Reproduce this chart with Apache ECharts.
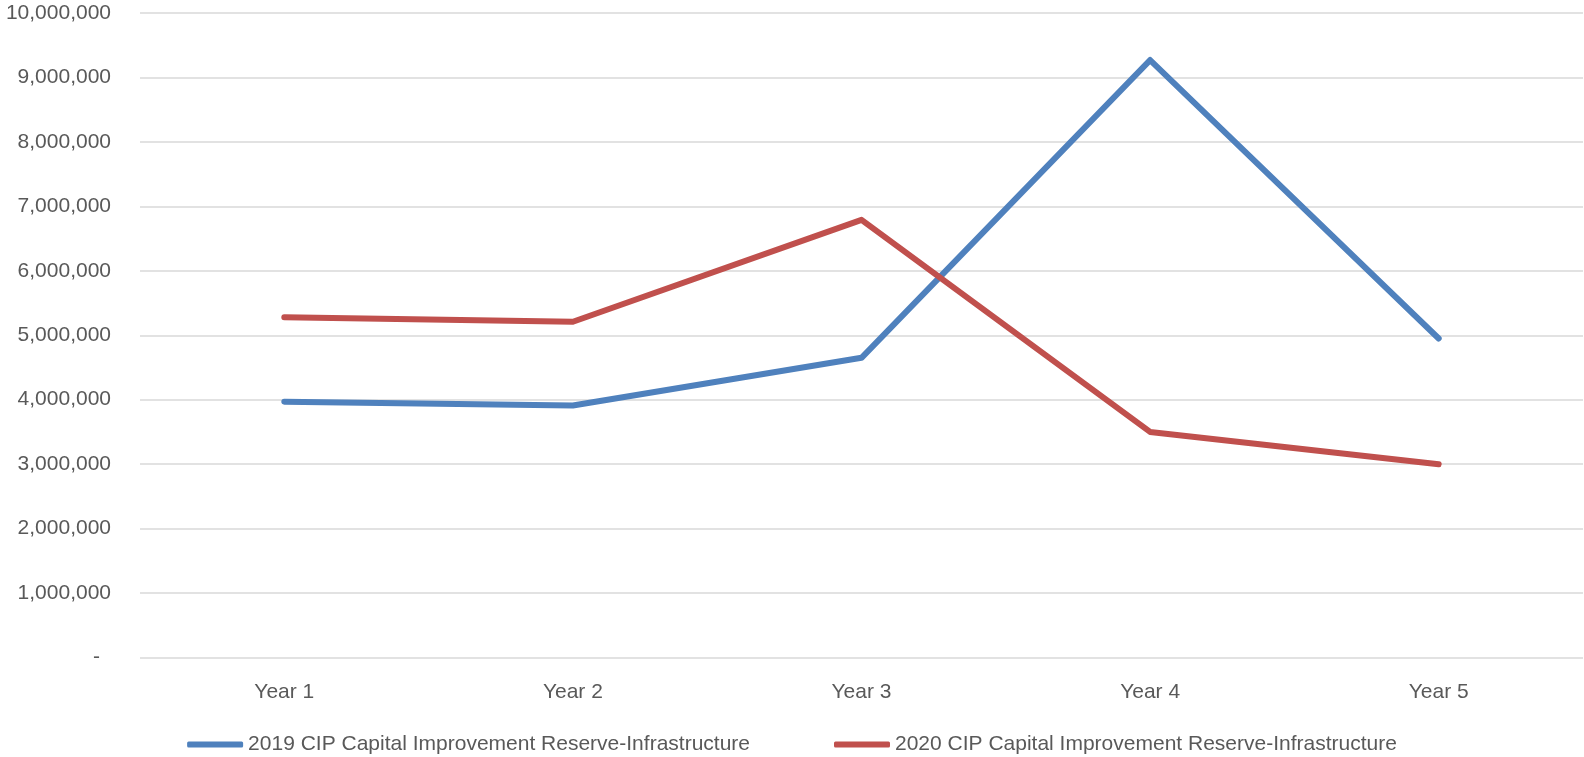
<!DOCTYPE html>
<html>
<head>
<meta charset="utf-8">
<script src="https://cdn.jsdelivr.net/npm/echarts@6/dist/echarts.min.js"></script>
<style>
  html, body { margin: 0; padding: 0; background: #ffffff; }
  #chart { width: 1584px; height: 757px; }
</style>
</head>
<body>
<div id="chart"></div>
<script>
// categories
const years = ['Year 1', 'Year 2', 'Year 3', 'Year 4', 'Year 5']
// series names
const name2019 = '2019 CIP Capital Improvement Reserve-Infrastructure'
const name2020 = '2020 CIP Capital Improvement Reserve-Infrastructure'
// values
const values2019 = [3970000, 3910000, 4650000, 9270000, 4950000]
const values2020 = [5280000, 5210000, 6790000, 3500000, 3000000]

const textColor = '#595959'
const fontFamily = '"Liberation Sans", Arial, sans-serif'

const chart = echarts.init(document.getElementById('chart'))

const option = {
  backgroundColor: '#ffffff',
  animation: false,
  textStyle: { fontFamily: fontFamily },
  grid: {
    left: 140,
    right: 1,
    top: 13,
    bottom: 99.5,
    containLabel: false
  },
  legend: {
    left: 'center',
    top: 729,
    icon: 'roundRect',
    itemWidth: 56,
    itemHeight: 6,
    itemGap: 84,
    textStyle: {
      color: textColor,
      fontSize: 21,
      fontFamily: fontFamily
    },
    data: [name2019, name2020]
  },
  xAxis: {
    type: 'category',
    data: years,
    boundaryGap: true,
    axisLine: { show: false },
    axisTick: { show: false },
    axisLabel: {
      color: textColor,
      fontSize: 21,
      margin: 24
    }
  },
  yAxis: {
    type: 'value',
    min: 0,
    max: 10000000,
    interval: 1000000,
    axisLine: { show: false },
    axisTick: { show: false },
    axisLabel: {
      color: textColor,
      fontSize: 21,
      margin: 29,
      formatter: function (v) {
        if (v === 0) return '{d|-}'
        return v.toLocaleString('en-US')
      },
      rich: {
        d: { color: textColor, fontSize: 21, padding: [0, 11, 0, 0] }
      }
    },
    splitLine: {
      lineStyle: { color: '#d9d9d9', width: 1.5 }
    }
  },
  series: [
    {
      name: name2019,
      type: 'line',
      data: values2019,
      symbol: 'none',
      itemStyle: { color: '#4f81bd' },
      lineStyle: { color: '#4f81bd', width: 6, cap: 'round', join: 'round' }
    },
    {
      name: name2020,
      type: 'line',
      data: values2020,
      symbol: 'none',
      itemStyle: { color: '#c0504d' },
      lineStyle: { color: '#c0504d', width: 6, cap: 'round', join: 'round' }
    }
  ]
}

chart.setOption(option)
</script>
</body>
</html>
